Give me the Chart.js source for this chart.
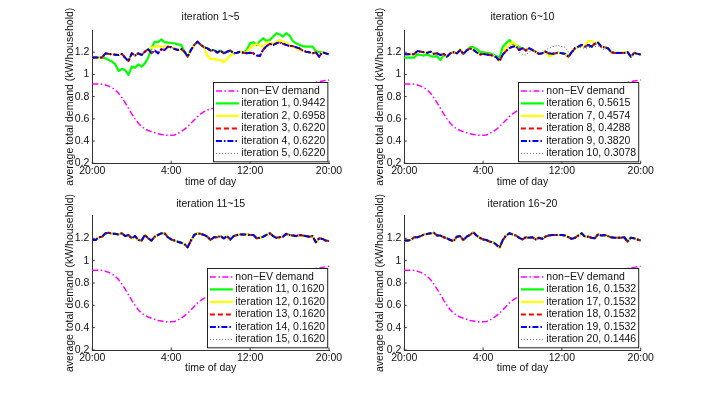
<!DOCTYPE html>
<html>
<head>
<meta charset="utf-8">
<script src="https://cdn.jsdelivr.net/npm/chart.js@4"></script>
<style>
  html, body { margin: 0; padding: 0; background: #fff; }
  #wrap { position: relative; width: 709px; height: 393px; overflow: hidden; }
  #wrap canvas { position: absolute; left: 0; top: 0; }
</style>
</head>
<body>
<div id="wrap">
  <canvas id="c1" width="709" height="393"></canvas>
  <canvas id="c2" width="709" height="393"></canvas>
  <canvas id="c3" width="709" height="393"></canvas>
  <canvas id="c4" width="709" height="393"></canvas>
</div>
<script>
// time of day, 20:00 -> 20:00 in 20 minute steps
const timeLabels = [];
for (let m = 0; m <= 24 * 60; m += 20) {
    const t = (20 * 60 + m) % (24 * 60);
    timeLabels.push(Math.floor(t / 60) + ':' + String(t % 60).padStart(2, '0'));
}
const xTickIdx = [0, 24, 48, 72];           // 20:00, 4:00, 12:00, 20:00
const yTicks = [0.2, 0.4, 0.6, 0.8, 1, 1.2];
const yTickLabels = ['0.2', '0.4', '0.6', '0.8', '1', '1.2'];

const nonEvLabel = 'non\u2212EV demand';
const nonEvDemand = [0.915,0.915,0.915,0.912,0.905,0.895,0.88,0.86,0.83,0.79,0.745,0.695,0.645,0.6,0.56,0.53,0.51,0.495,0.485,0.475,
    0.465,0.46,0.455,0.452,0.452,0.455,0.468,0.485,0.505,0.53,0.56,0.59,0.62,0.645,0.665,0.68,0.69,0.695,0.7,0.705,
    0.71,0.715,0.72,0.72,0.72,0.72,0.725,0.73,0.735,0.74,0.75,0.76,0.77,0.78,0.79,0.8,0.81,0.82,0.83,0.84,
    0.85,0.86,0.87,0.88,0.89,0.9,0.91,0.92,0.93,0.935,0.94,0.945,0.95];

// panel 1: iterations 1~5
const p1Names = ['iteration 1, 0.9442', 'iteration 2, 0.6958', 'iteration 3, 0.6220', 'iteration 4, 0.6220', 'iteration 5, 0.6220'];
const p1Iter1 = [1.152,1.152,1.152,1.152,1.146,1.13,1.116,1.09,1.03,1.05,1.04,0.996,1.07,1.06,1.09,1.07,1.1,1.15,1.236,1.296,
    1.29,1.315,1.29,1.287,1.283,1.28,1.27,1.266,1.21,1.16,1.22,1.265,1.295,1.266,1.245,1.235,1.215,1.22,1.197,1.215,
    1.19,1.205,1.215,1.19,1.195,1.205,1.195,1.22,1.28,1.29,1.266,1.3,1.326,1.3,1.311,1.34,1.371,1.36,1.341,1.371,
    1.35,1.3,1.28,1.266,1.255,1.25,1.25,1.25,1.21,1.2,1.2,1.19,1.18];
const p1Iter2 = [1.152,1.152,1.152,1.152,1.19,1.185,1.18,1.178,1.175,1.185,1.15,1.12,1.19,1.17,1.19,1.175,1.205,1.227,1.24,1.25,
    1.255,1.25,1.25,1.255,1.245,1.235,1.225,1.22,1.2,1.16,1.22,1.265,1.295,1.266,1.245,1.17,1.14,1.14,1.13,1.13,
    1.11,1.14,1.17,1.19,1.195,1.205,1.195,1.2,1.24,1.26,1.275,1.26,1.25,1.29,1.285,1.28,1.29,1.31,1.295,1.28,
    1.265,1.25,1.235,1.22,1.215,1.205,1.2,1.19,1.2,1.16,1.2,1.19,1.18];
const p1Iter3to5 = [1.152,1.152,1.152,1.152,1.19,1.185,1.18,1.178,1.175,1.185,1.15,1.12,1.19,1.17,1.19,1.175,1.205,1.227,1.19,1.215,
    1.19,1.227,1.22,1.25,1.245,1.23,1.22,1.23,1.205,1.16,1.22,1.265,1.295,1.266,1.245,1.235,1.215,1.22,1.197,1.215,
    1.19,1.205,1.215,1.19,1.195,1.205,1.195,1.19,1.195,1.19,1.17,1.167,1.225,1.255,1.275,1.265,1.28,1.29,1.275,1.266,
    1.255,1.255,1.245,1.235,1.215,1.205,1.2,1.19,1.2,1.16,1.2,1.19,1.18];

// panel 2: iterations 6~10
const p2Names = ['iteration 6, 0.5615', 'iteration 7, 0.4574', 'iteration 8, 0.4288', 'iteration 9, 0.3820', 'iteration 10, 0.3078'];
const p2Iter6 = [1.152,1.152,1.152,1.152,1.18,1.175,1.17,1.18,1.165,1.16,1.165,1.13,1.175,1.16,1.19,1.2,1.19,1.22,1.185,1.22,
    1.245,1.245,1.23,1.205,1.2,1.195,1.19,1.18,1.165,1.15,1.25,1.28,1.31,1.275,1.265,1.245,1.236,1.215,1.236,1.22,
    1.205,1.185,1.19,1.205,1.19,1.185,1.19,1.196,1.19,1.185,1.16,1.2,1.236,1.25,1.266,1.25,1.266,1.25,1.275,1.287,
    1.25,1.245,1.236,1.2,1.194,1.194,1.194,1.194,1.2,1.16,1.194,1.185,1.18];
const p2Iter7 = [1.182,1.182,1.182,1.182,1.21,1.205,1.2,1.194,1.205,1.185,1.19,1.175,1.185,1.16,1.19,1.2,1.19,1.23,1.185,1.215,
    1.236,1.222,1.2,1.18,1.185,1.18,1.175,1.17,1.155,1.12,1.18,1.24,1.27,1.29,1.27,1.22,1.236,1.215,1.236,1.22,
    1.205,1.185,1.19,1.205,1.165,1.17,1.19,1.196,1.19,1.185,1.16,1.2,1.236,1.25,1.266,1.25,1.3,1.3,1.28,1.295,
    1.25,1.245,1.236,1.2,1.194,1.194,1.194,1.194,1.2,1.16,1.194,1.185,1.18];
const p2Iter8to9 = [1.182,1.182,1.182,1.182,1.21,1.205,1.2,1.194,1.205,1.185,1.19,1.175,1.185,1.16,1.19,1.2,1.19,1.22,1.185,1.215,
    1.236,1.222,1.2,1.18,1.185,1.18,1.175,1.17,1.155,1.12,1.18,1.21,1.236,1.25,1.255,1.22,1.236,1.215,1.236,1.22,
    1.205,1.185,1.19,1.205,1.19,1.185,1.19,1.196,1.19,1.185,1.16,1.2,1.236,1.25,1.266,1.25,1.266,1.25,1.275,1.287,
    1.25,1.245,1.236,1.2,1.194,1.194,1.194,1.194,1.2,1.16,1.194,1.185,1.18];
const p2Iter10 = [1.182,1.182,1.182,1.182,1.21,1.205,1.2,1.194,1.205,1.185,1.19,1.175,1.185,1.16,1.19,1.2,1.19,1.22,1.185,1.215,
    1.236,1.222,1.2,1.18,1.185,1.18,1.175,1.17,1.155,1.12,1.18,1.21,1.236,1.25,1.255,1.2,1.18,1.175,1.2,1.22,
    1.205,1.185,1.19,1.22,1.235,1.25,1.255,1.26,1.25,1.245,1.2,1.2,1.236,1.25,1.24,1.235,1.24,1.245,1.25,1.255,
    1.24,1.22,1.236,1.2,1.194,1.194,1.194,1.194,1.2,1.16,1.194,1.185,1.18];

// panel 3: iterations 11~15 (all the same)
const p3Names = ['iteration 11, 0.1620', 'iteration 12, 0.1620', 'iteration 13, 0.1620', 'iteration 14, 0.1620', 'iteration 15, 0.1620'];
const p3Iter11to15 = [1.185,1.185,1.21,1.215,1.245,1.25,1.24,1.24,1.235,1.245,1.22,1.23,1.2,1.22,1.185,1.18,1.23,1.2,1.18,1.215,
    1.23,1.245,1.245,1.21,1.19,1.18,1.17,1.16,1.15,1.12,1.18,1.23,1.245,1.24,1.23,1.215,1.185,1.21,1.21,1.22,
    1.2,1.22,1.19,1.22,1.23,1.235,1.235,1.235,1.23,1.23,1.2,1.205,1.215,1.23,1.245,1.22,1.205,1.21,1.215,1.24,
    1.23,1.225,1.22,1.23,1.225,1.22,1.215,1.22,1.165,1.2,1.195,1.18,1.175];

// panel 4: iterations 16~20
const p4Names = ['iteration 16, 0.1532', 'iteration 17, 0.1532', 'iteration 18, 0.1532', 'iteration 19, 0.1532', 'iteration 20, 0.1446'];
const p4Iter16to19 = [1.18,1.18,1.185,1.21,1.21,1.22,1.235,1.24,1.245,1.25,1.225,1.225,1.21,1.2,1.185,1.175,1.215,1.22,1.185,1.215,
    1.23,1.255,1.225,1.205,1.19,1.185,1.17,1.165,1.145,1.115,1.185,1.225,1.245,1.235,1.225,1.205,1.19,1.21,1.205,1.21,
    1.19,1.205,1.195,1.215,1.225,1.23,1.23,1.23,1.23,1.225,1.21,1.195,1.205,1.225,1.245,1.215,1.215,1.205,1.2,1.235,
    1.225,1.23,1.22,1.21,1.205,1.205,1.205,1.21,1.17,1.205,1.2,1.19,1.18];
const p4Iter20 = [1.18,1.18,1.185,1.21,1.21,1.22,1.235,1.24,1.245,1.25,1.225,1.225,1.21,1.2,1.185,1.175,1.215,1.22,1.185,1.215,
    1.23,1.255,1.225,1.205,1.19,1.185,1.175,1.17,1.15,1.115,1.185,1.225,1.245,1.235,1.225,1.205,1.19,1.21,1.205,1.21,
    1.19,1.205,1.195,1.215,1.225,1.23,1.23,1.23,1.23,1.225,1.21,1.195,1.205,1.225,1.245,1.215,1.215,1.205,1.2,1.235,
    1.225,1.23,1.22,1.21,1.205,1.205,1.205,1.21,1.17,1.205,1.2,1.19,1.18];

// matlab-like line styles: g-, y-, r--, b-., k:
const iterStyles = [
    { color: '#00ff00', width: 2.2, dash: [] },
    { color: '#ffff00', width: 2.2, dash: [] },
    { color: '#ff0000', width: 2, dash: [5, 3] },
    { color: '#0000ff', width: 2, dash: [6, 2, 1.5, 2] },
    { color: '#000000', width: 0.6, dash: [1, 2] }
];

const FONT = '"Liberation Sans", Arial, Helvetica, sans-serif';
const FS = 10.5;
const LH = FS * 1.2;
Chart.defaults.font.family = FONT;
Chart.defaults.font.size = FS;
Chart.defaults.color = '#111';

// legend box in the lower right corner of the axes
const legendBox = {
    id: 'legendBox',
    afterDraw(chart) {
        const { ctx, chartArea: a } = chart;
        const items = chart.data.datasets;
        ctx.save();
        ctx.font = FS + 'px ' + FONT;
        const textW = Math.max(...items.map(d => ctx.measureText(d.label).width));
        const rowH = 12.5, lineW = 23;
        const w = 2.4 + lineW + 2.4 + textW + 2.5;
        const h = items.length * rowH + 4.3;
        const x0 = Math.round(a.right - 2 - w) + 0.5, y0 = Math.round(a.bottom - 2.3 - h) + 0.5;
        ctx.fillStyle = '#fff';
        ctx.fillRect(x0, y0, w, h);
        ctx.strokeStyle = '#222';
        ctx.lineWidth = 1;
        ctx.strokeRect(x0, y0, w, h);
        items.forEach((d, k) => {
            const y = y0 + 2.15 + rowH * (k + 0.5);
            ctx.setLineDash(d.borderDash || []);
            ctx.strokeStyle = d.borderColor;
            ctx.lineWidth = d.borderWidth;
            ctx.beginPath();
            ctx.moveTo(x0 + 2.4, y);
            ctx.lineTo(x0 + 2.4 + lineW, y);
            ctx.stroke();
            ctx.setLineDash([]);
            ctx.fillStyle = '#111';
            ctx.textBaseline = 'middle';
            ctx.fillText(d.label, x0 + 4.8 + lineW, y);
        });
        ctx.restore();
    }
};

// short inward tick marks like matlab
const innerTicks = {
    id: 'innerTicks',
    afterDatasetsDraw(chart) {
        const { ctx, chartArea: a, scales: { x, y } } = chart;
        ctx.save();
        ctx.strokeStyle = '#333';
        ctx.lineWidth = 1;
        ctx.beginPath();
        x.ticks.forEach(t => { const px = x.getPixelForValue(t.value); ctx.moveTo(px, a.bottom); ctx.lineTo(px, a.bottom - 2.5); });
        y.ticks.forEach(t => { const py = y.getPixelForValue(t.value); ctx.moveTo(a.left, py); ctx.lineTo(a.left + 2.5, py); });
        ctx.stroke();
        ctx.restore();
    }
};

const panels = [
    { id: 'c1', title: 'iteration 1~5', names: p1Names, series: [p1Iter1, p1Iter2, p1Iter3to5, p1Iter3to5, p1Iter3to5],
      box: { left: 92.3, right: 329, top: 30, bottom: 163.3, titleY: 17.3, xLabelY: 181.7, yLabelX: 70 } },
    { id: 'c2', title: 'iteration 6~10', names: p2Names, series: [p2Iter6, p2Iter7, p2Iter8to9, p2Iter8to9, p2Iter10],
      box: { left: 404.3, right: 640.7, top: 30, bottom: 163.3, titleY: 17.3, xLabelY: 181.7, yLabelX: 380 } },
    { id: 'c3', title: 'iteration 11~15', names: p3Names, series: [p3Iter11to15, p3Iter11to15, p3Iter11to15, p3Iter11to15, p3Iter11to15],
      box: { left: 92.3, right: 329, top: 216, bottom: 350, titleY: 204.3, xLabelY: 368, yLabelX: 70 } },
    { id: 'c4', title: 'iteration 16~20', names: p4Names, series: [p4Iter16to19, p4Iter16to19, p4Iter16to19, p4Iter16to19, p4Iter20],
      box: { left: 404.3, right: 640.7, top: 216, bottom: 350, titleY: 204.3, xLabelY: 368, yLabelX: 380 } }
];

function makePanel(p) {
    const b = p.box;
    const datasets = [{
        label: nonEvLabel, data: nonEvDemand, borderColor: '#ff00ff', borderWidth: 1.5,
        borderDash: [6, 2.5, 1.5, 2.5], order: 9
    }];
    p.series.forEach((s, k) => datasets.push({
        label: p.names[k], data: s, borderColor: iterStyles[k].color,
        borderWidth: iterStyles[k].width, borderDash: iterStyles[k].dash, order: 5 - k
    }));

    new Chart(document.getElementById(p.id), {
        type: 'line',
        data: { labels: timeLabels, datasets },
        options: {
            responsive: false,
            animation: false,
            devicePixelRatio: 1,
            events: [],
            layout: { padding: { left: b.yLabelX - LH / 2, right: 709 - b.right, top: 0, bottom: 393 - b.xLabelY - LH / 2 } },
            elements: {
                point: { radius: 0 },
                line: { tension: 0, borderJoinStyle: 'round', fill: false }
            },
            plugins: {
                legend: { display: false },
                tooltip: { enabled: false },
                title: {
                    display: true, text: p.title, fullSize: false, color: '#111',
                    font: { size: FS, weight: 'normal' },
                    padding: { top: b.titleY - LH / 2, bottom: b.top - b.titleY - LH / 2 }
                }
            },
            scales: {
                x: {
                    type: 'category',
                    offset: false,
                    grid: { display: false, drawTicks: false },
                    border: { color: '#333' },
                    ticks: { autoSkip: false, maxRotation: 0, padding: 2 },
                    afterBuildTicks: s => { s.ticks = xTickIdx.map(v => ({ value: v })); },
                    afterFit: s => { s.height = b.xLabelY + LH / 2 - b.bottom; },
                    title: { display: true, text: 'time of day', padding: 0 }
                },
                y: {
                    min: 0.2, max: 1.4,
                    grid: { display: false, drawTicks: false },
                    border: { color: '#333' },
                    ticks: { padding: 3, callback: v => yTickLabels[yTicks.indexOf(v)] },
                    afterBuildTicks: s => { s.ticks = yTicks.map(v => ({ value: v })); },
                    afterFit: s => { s.width = b.left - (b.yLabelX - LH / 2); },
                    title: { display: true, text: 'average total demand (kW/household)', padding: 0 }
                }
            }
        },
        plugins: [innerTicks, legendBox]
    });
}

panels.forEach(makePanel);
</script>
</body>
</html>
